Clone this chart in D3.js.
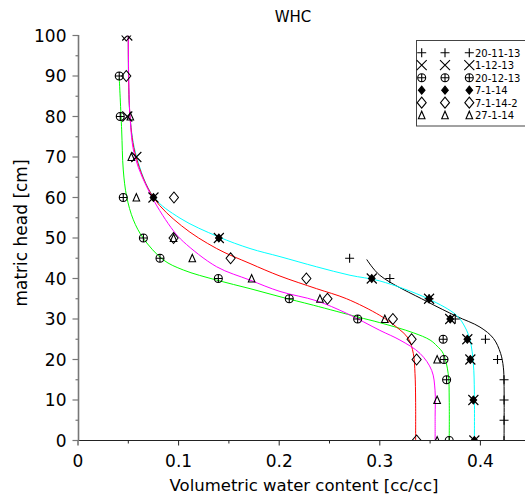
<!DOCTYPE html>
<html><head><meta charset="utf-8">
<script src="https://cdn.jsdelivr.net/npm/d3@7"></script>
<style>body{margin:0;background:#fff}svg{display:block;font-family:"DejaVu Sans",sans-serif}</style>
</head><body><svg id="c" width="525" height="497"></svg>
<script>
// ---- data: [water content, matric head] ----
const seriesNames = ["20-11-13","1-12-13","20-12-13","7-1-14","7-1-14-2","27-1-14"];
const seriesMarkers = ["plus","cross","oplus","fdiamond","diamond","triangle"];
const pts_20_11_13 = [[0.27,45],[0.31,40],[0.349,35],[0.375,30],[0.405,25],[0.417,20],[0.4235,15],[0.4235,10],[0.4235,5],[0.4235,0]];
const pts_1_12_13 = [[0.049,100],[0.049,80],[0.058,70],[0.075,60],[0.14,50],[0.292,40],[0.349,35],[0.37,30],[0.387,25],[0.39,20],[0.393,10],[0.394,0]];
const pts_20_12_13 = [[0.041,90],[0.042,80],[0.045,60],[0.065,50],[0.0815,45],[0.1395,40],[0.21,35],[0.278,30],[0.363,25],[0.3638,20],[0.3664,15],[0.369,0]];
const pts_7_1_14 = [[0.075,60],[0.14,50],[0.292,40],[0.349,35],[0.37,30],[0.387,25],[0.39,20],[0.393,10],[0.394,0]];
const pts_7_1_14_2 = [[0.048,100],[0.048,90],[0.0954,60],[0.095,50],[0.1517,45],[0.227,40],[0.248,35],[0.313,30],[0.3316,25],[0.3366,20],[0.3366,0]];
const pts_27_1_14 = [[0.052,80],[0.053,70],[0.058,60],[0.095,50],[0.1136,45],[0.1726,40],[0.2405,35],[0.305,30],[0.357,20],[0.357,10],[0.357,0]];
const seriesPoints = [pts_20_11_13,pts_1_12_13,pts_20_12_13,pts_7_1_14,pts_7_1_14_2,pts_27_1_14];

// fitted curves
const fit_20_11_13 = [[0.287,44.7],[0.300,40.8],[0.347,34.3],[0.376,30.7],[0.3996,28],[0.413,25.2],[0.4201,21.5],[0.4228,18.1],[0.4235,14],[0.4235,0]];
const fit_1_12_13 = [[0.050,100],[0.0517,80],[0.0583,70],[0.075,60.2],[0.1014,54.9],[0.1395,50.3],[0.171,47.4],[0.2008,45.4],[0.237,42.9],[0.2704,40.8],[0.300,39.4],[0.348,35],[0.3763,30.9],[0.3847,28],[0.3897,24.8],[0.393,19],[0.394,12],[0.394,0]];
const fit_20_12_13 = [[0.041,89.5],[0.0434,76.7],[0.045,66.8],[0.0484,60.2],[0.055,54.5],[0.065,49.9],[0.0848,44.6],[0.1047,42.1],[0.1378,39.6],[0.171,37.5],[0.2008,35.5],[0.234,33.4],[0.278,30.5],[0.300,29.1],[0.3333,26.6],[0.350,24.8],[0.357,23.3],[0.363,21.5],[0.368,16.5],[0.369,10],[0.369,0]];
const fit_7_1_14_2 = [[0.050,100],[0.0517,80],[0.0577,70],[0.075,60],[0.103,53],[0.1378,47.4],[0.171,43.7],[0.2008,40.6],[0.237,37.5],[0.267,35],[0.300,30.9],[0.3167,28],[0.3283,25.2],[0.3333,21.5],[0.335,16.5],[0.3356,10],[0.3356,0]];
const fit_27_1_14 = [[0.050,100],[0.0517,80],[0.0567,70],[0.0733,60.2],[0.0948,51.8],[0.1047,49.1],[0.1378,42.9],[0.171,39.6],[0.2008,36.8],[0.237,34.5],[0.267,31.4],[0.300,27.2],[0.320,24.8],[0.340,21.5],[0.3516,17.3],[0.3549,12.4],[0.355,6],[0.355,0]];
const fitCurves = [fit_20_11_13,fit_1_12_13,fit_20_12_13,fit_7_1_14_2,fit_27_1_14];
const fitColors = ["#000000","#00ffff","#00ff00","#ff0000","#ff00ff"];

const xTicks = [0,0.1,0.2,0.3,0.4];
const yTicks = [0,10,20,30,40,50,60,70,80,90,100];

const svg = d3.select("#c");
const x = d3.scaleLinear().domain([0,0.45]).range([78,78+0.45*1006]);
const y = d3.scaleLinear().domain([0,100]).range([440.5,35.5]);

svg.append("defs").append("clipPath").attr("id","clip").append("rect")
  .attr("x",78).attr("y",35.5).attr("width",460).attr("height",405);

const sym = {
  plus:"M-4.5,0H4.5M0,-4.5V4.5",
  cross:"M-5,-5L5,5M-5,5L5,-5",
  oplus:"M-4,0H4M0,-4V4M4,0A4,4 0 1 1 -4,0A4,4 0 1 1 4,0",
  fdiamond:"M0,-4L3.3,0L0,4L-3.3,0Z",
  diamond:"M0,-5.5L4.5,0L0,5.5L-4.5,0Z",
  triangle:"M-3.3,3.5L0,-4L3.3,3.5Z"
};
function drawMarker(g,type,cx,cy){
  g.append("path").attr("d",sym[type]).attr("transform",`translate(${cx},${cy})`)
   .attr("fill",type==="fdiamond"?"#000":"none").attr("stroke","#000").attr("stroke-width",1.1);
}

const plot = svg.append("g").attr("clip-path","url(#clip)");
const line = d3.line().x(d=>x(d[0])).y(d=>y(d[1])).curve(d3.curveCatmullRom.alpha(0.5));
fitCurves.forEach((c,i)=>{
  plot.append("path").attr("d",line(c.slice().sort((a,b)=>a[1]-b[1])))
    .attr("fill","none").attr("stroke",fitColors[i]).attr("stroke-width",1);
});
seriesPoints.forEach((pts,i)=>{
  pts.forEach(p=>drawMarker(plot,seriesMarkers[i],x(p[0]),y(p[1])));
});

// axes
const xAxisG = svg.append("g").attr("transform","translate(0,440.5)");
xAxisG.append("line").attr("x1",78).attr("x2",525).attr("stroke","#222").attr("stroke-width",1.2);
d3.range(0,0.451,0.05).forEach(v=>{
  const major = Math.abs(v*10-Math.round(v*10))<1e-6;
  xAxisG.append("line").attr("x1",x(v)).attr("x2",x(v)).attr("y1",0).attr("y2",major?5:3)
    .attr("stroke","#222").attr("stroke-width",1);
});
xTicks.forEach(v=>{
  xAxisG.append("text").attr("x",x(v)).attr("y",26.5).attr("text-anchor","middle")
    .attr("font-size",17).attr("fill","#000").text(v===0?"0":d3.format(".1f")(v));
});
const yAxisG = svg.append("g").attr("transform","translate(78.5,0)");
yAxisG.append("line").attr("y1",35).attr("y2",441).attr("stroke","#777").attr("stroke-width",1.6);
d3.range(0,101,5).forEach(v=>{
  const major = v%10===0;
  yAxisG.append("line").attr("x1",major?-6:-3).attr("x2",0).attr("y1",y(v)).attr("y2",y(v))
    .attr("stroke","#777").attr("stroke-width",1.2);
});
yTicks.forEach(v=>{
  yAxisG.append("text").attr("x",-12).attr("y",y(v)+6).attr("text-anchor","end")
    .attr("font-size",17).attr("fill","#000").text(v);
});

svg.append("text").attr("x",304).attr("y",491).attr("text-anchor","middle")
  .attr("font-size",16.5).text("Volumetric water content [cc/cc]");
svg.append("text").attr("transform","translate(27,233) rotate(-90)").attr("text-anchor","middle")
  .attr("font-size",17).text("matric head [cm]");
svg.append("text").attr("x",293).attr("y",22).attr("text-anchor","middle")
  .attr("font-size",15).text("WHC");

// legend
const lg = svg.append("g");
lg.append("rect").attr("x",416.5).attr("y",40.5).attr("width",120).attr("height",85.5)
  .attr("fill","#fff").attr("stroke","#444").attr("stroke-width",1);
seriesNames.forEach((n,i)=>{
  const yy = 52.7 + i*12.5;
  [421.7,445,469.3].forEach(xx=>drawMarker(lg,seriesMarkers[i],xx,yy));
  lg.append("text").attr("x",475).attr("y",yy+3.8).attr("font-size",10).text(n);
});
</script></body></html>
